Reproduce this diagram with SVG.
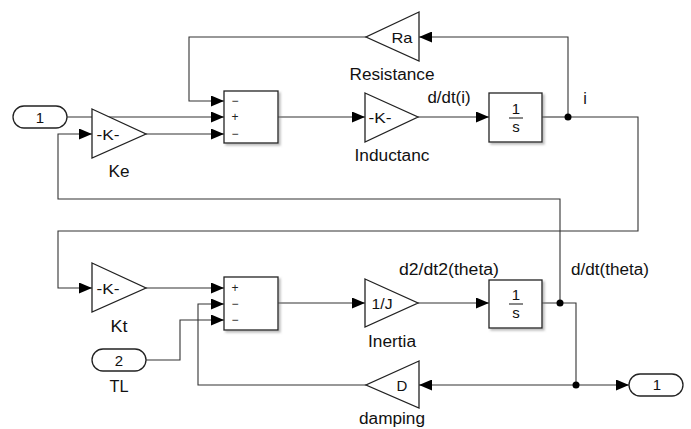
<svg xmlns="http://www.w3.org/2000/svg" width="691" height="429" viewBox="0 0 691 429">
<style>
.blk{fill:#fff;stroke:#222;stroke-width:1.3}
.box{fill:#fff;stroke:#222;stroke-width:1.3;filter:url(#sh)}
.ln{fill:none;stroke:#333;stroke-width:1.1}
.arr{marker-end:url(#ah)}
.t{font-family:"Liberation Sans",Arial,sans-serif;font-size:16px;fill:#111;text-anchor:middle}
.bt{font-family:"Liberation Sans",Arial,sans-serif;font-size:15px;fill:#111;text-anchor:middle}
.sg{font-family:"Liberation Sans",Arial,sans-serif;font-size:12px;fill:#222;text-anchor:middle}
.dot{fill:#000}
</style>
<defs>
<marker id="ah" markerUnits="userSpaceOnUse" markerWidth="13" markerHeight="11" refX="13" refY="5.5" orient="auto">
<path d="M0,0 L13,5.5 L0,11 z" fill="#000"/>
</marker>
<filter id="sh" x="-10%" y="-10%" width="130%" height="130%">
<feDropShadow dx="2" dy="2" stdDeviation="1.2" flood-color="#777" flood-opacity="0.5"/>
</filter>
</defs>
<rect width="691" height="429" fill="#fff"/>

<g id="connectors">
<path class="ln arr" d="M67,117 H224"/>
<path class="ln arr" d="M146,134 H224"/>
<path class="ln arr" d="M366,37 H189 V101 H224"/>
<path class="ln arr" d="M278,117 H365"/>
<path class="ln arr" d="M418,117 H489"/>
<path class="ln" d="M542,117 H568"/>
<path class="ln arr" d="M568,117 V37 H419"/>
<path class="ln arr" d="M568,117 H638 V231 H58 V288 H92"/>
<path class="ln arr" d="M146,288 H224"/>
<path class="ln arr" d="M278,303 H365"/>
<path class="ln arr" d="M418,303 H489"/>
<path class="ln" d="M542,303 H576 V385"/>
<path class="ln arr" d="M560,303 V199 H58 V134 H92"/>
<path class="ln arr" d="M576,385 H629"/>
<path class="ln arr" d="M576,385 H419"/>
<path class="ln arr" d="M366,385 H198 V304 H224"/>
<path class="ln arr" d="M146,360 H180 V320 H224"/>
<circle class="dot" cx="568" cy="117" r="3.5"/>
<circle class="dot" cx="560" cy="303" r="3.5"/>
<circle class="dot" cx="576" cy="385" r="3.5"/>
<text class="t" x="449" y="103" textLength="43" lengthAdjust="spacingAndGlyphs">d/dt(i)</text>
<text class="t" x="585" y="104">i</text>
<text class="t" x="449" y="275" textLength="100" lengthAdjust="spacingAndGlyphs">d2/dt2(theta)</text>
<text class="t" x="610" y="275" textLength="78" lengthAdjust="spacingAndGlyphs">d/dt(theta)</text>
</g>

<g id="in1">
<rect class="blk" x="13" y="106" width="54" height="22" rx="11"/>
<text class="bt" x="40" y="123">1</text>
</g>

<g id="Ke">
<path class="blk" d="M92,109 L146,134 L92,158 z"/>
<text class="bt" x="108" y="140" textLength="23" lengthAdjust="spacingAndGlyphs">-K-</text>
<text class="t" x="119" y="177" textLength="21" lengthAdjust="spacingAndGlyphs">Ke</text>
</g>

<g id="sum1">
<rect class="box" x="224" y="91" width="54" height="52"/>
<text class="sg" x="235" y="105">−</text>
<text class="sg" x="235" y="121">+</text>
<text class="sg" x="235" y="138">−</text>
</g>

<g id="Resistance">
<path class="blk" d="M419,12 L366,37 L419,61 z"/>
<text class="bt" x="402" y="43" textLength="21" lengthAdjust="spacingAndGlyphs">Ra</text>
<text class="t" x="392" y="80" textLength="85" lengthAdjust="spacingAndGlyphs">Resistance</text>
</g>

<g id="Inductance">
<path class="blk" d="M365,93 L418,117 L365,142 z"/>
<text class="bt" x="380" y="123" textLength="23" lengthAdjust="spacingAndGlyphs">-K-</text>
<text class="t" x="392" y="161" textLength="75" lengthAdjust="spacingAndGlyphs">Inductanc</text>
</g>

<g id="int1">
<rect class="box" x="489" y="93" width="53" height="49"/>
<text class="bt" x="516" y="114">1</text>
<line x1="509" y1="118" x2="523" y2="118" stroke="#111" stroke-width="1"/>
<text class="bt" x="516" y="132">s</text>
</g>

<g id="Kt">
<path class="blk" d="M92,263 L146,288 L92,312 z"/>
<text class="bt" x="108" y="294" textLength="23" lengthAdjust="spacingAndGlyphs">-K-</text>
<text class="t" x="119" y="332" textLength="17" lengthAdjust="spacingAndGlyphs">Kt</text>
</g>

<g id="sum2">
<rect class="box" x="224" y="277" width="54" height="53"/>
<text class="sg" x="235" y="292">+</text>
<text class="sg" x="235" y="308">−</text>
<text class="sg" x="235" y="324">−</text>
</g>

<g id="TL">
<rect class="blk" x="92" y="349" width="54" height="22" rx="11"/>
<text class="bt" x="119" y="366">2</text>
<text class="t" x="119" y="392" textLength="19" lengthAdjust="spacingAndGlyphs">TL</text>
</g>

<g id="Inertia">
<path class="blk" d="M365,279 L418,303 L365,327 z"/>
<text class="bt" x="382" y="309" textLength="21" lengthAdjust="spacingAndGlyphs">1/J</text>
<text class="t" x="392" y="347" textLength="48" lengthAdjust="spacingAndGlyphs">Inertia</text>
</g>

<g id="int2">
<rect class="box" x="489" y="280" width="53" height="48"/>
<text class="bt" x="516" y="300">1</text>
<line x1="509" y1="304" x2="523" y2="304" stroke="#111" stroke-width="1"/>
<text class="bt" x="516" y="318">s</text>
</g>

<g id="damping">
<path class="blk" d="M419,361 L366,385 L419,408 z"/>
<text class="bt" x="402" y="391">D</text>
<text class="t" x="392" y="424" textLength="66" lengthAdjust="spacingAndGlyphs">damping</text>
</g>

<g id="out1">
<rect class="blk" x="629" y="374" width="54" height="22" rx="11"/>
<text class="bt" x="657" y="390">1</text>
</g>
</svg>
